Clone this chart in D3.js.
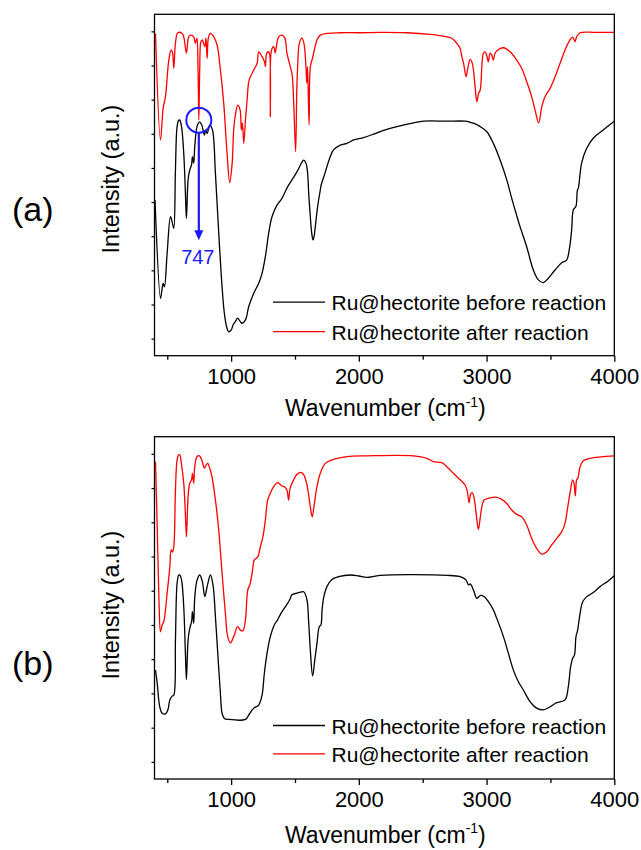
<!DOCTYPE html>
<html>
<head>
<meta charset="utf-8">
<script src="https://cdn.jsdelivr.net/npm/d3@7"></script>
<style>
  html, body { margin: 0; padding: 0; background: #fff; }
  svg { display: block; font-family: Arial, "Liberation Sans", Helvetica, sans-serif; }
</style>
</head>
<body>
<svg id="chart" width="641" height="850"></svg>
<script>
// FTIR spectra of Ru@hectorite before and after reaction (intensity in a.u.)
const xDomain = [400, 4000];
const xMajorTicks = [1000, 2000, 3000, 4000];
const xMinorTicks = [500, 1500, 2500, 3500];
const seriesNames = ["Ru@hectorite before reaction", "Ru@hectorite after reaction"];
const seriesColors = ["#000000", "#ff0000"];
const panelLabels = ["(a)", "(b)"];
const markedPeak = 747;
const markedPeakIntensity = 69.0;

// panel (a): [wavenumber, intensity]
const beforeA = [
  [404,45.6],[447,16.8],[458,19.2],[468,21.2],[478,20.2],[499,30.0],[525,40.7],[538,39.2],[551,37.3],
  [564,54.4],[577,67.1],[590,69.0],[598,69.0],[612,67.0],[629,59.3],[642,47.7],[650,40.2],[663,51.5],
  [676,54.4],[690,55.9],[697,58.3],[707,56.4],[715,61.1],[733,67.1],[752,68.5],[770,67.6],[791,64.6],
  [800,66.1],[812,65.1],[833,67.6],[854,66.1],[877,53.4],[903,35.9],[929,20.2],[947,12.4],[965,8.4],
  [981,7.0],[1000,7.5],[1015,9.0],[1033,10.0],[1051,11.0],[1068,10.2],[1084,9.5],[1112,10.5],[1138,14.4],
  [1177,18.3],[1216,21.2],[1242,24.1],[1268,29.0],[1294,35.9],[1320,40.7],[1359,44.1],[1398,46.1],
  [1437,49.1],[1476,51.5],[1516,53.9],[1550,56.4],[1568,57.3],[1586,56.4],[1598,53.8],[1608,47.1],
  [1620,40.7],[1632,35.6],[1641,33.9],[1650,35.1],[1659,37.8],[1677,43.6],[1698,48.5],[1705,50.0],
  [1730,52.9],[1750,55.4],[1775,58.2],[1802,60.3],[1855,61.7],[1907,62.2],[1959,63.2],[2037,63.9],
  [2115,64.9],[2193,66.0],[2298,67.1],[2428,68.2],[2506,68.7],[2689,68.7],[2832,68.7],[2870,68.4],
  [2897,68.1],[2950,67.1],[3002,65.6],[3053,62.2],[3106,57.3],[3158,51.5],[3197,46.1],[3223,42.7],
  [3262,37.8],[3314,31.9],[3366,25.1],[3405,22.2],[3445,21.4],[3484,22.7],[3536,25.1],[3588,27.2],
  [3627,28.0],[3647,31.0],[3666,36.8],[3679,42.7],[3700,43.8],[3711,48.5],[3718,49.0],[3744,56.4],
  [3783,60.7],[3835,63.7],[3913,66.1],[4000,68.7]
];
const afterA = [
  [408,94.4],[447,63.2],[468,72.6],[486,75.9],[512,86.6],[530,89.5],[540,89.0],[551,84.2],[564,91.5],
  [582,94.6],[616,94.4],[629,93.4],[650,88.6],[668,93.4],[686,93.9],[707,93.4],[720,91.5],[728,92.5],
  [733,93.0],[741,83.7],[747,69.0],[754,83.7],[763,91.9],[773,92.5],[794,90.5],[803,93.1],[812,87.1],
  [822,93.1],[838,94.4],[864,93.4],[890,91.0],[916,83.7],[942,73.9],[968,59.3],[989,50.7],[1008,56.4],
  [1020,66.1],[1033,70.5],[1052,73.4],[1070,72.0],[1080,66.1],[1088,68.2],[1099,62.2],[1112,69.0],
  [1125,74.9],[1138,80.3],[1151,81.7],[1177,83.7],[1203,85.6],[1216,89.0],[1242,87.6],[1262,86.0],
  [1268,84.7],[1280,88.7],[1295,89.0],[1307,70.0],[1316,89.5],[1333,90.5],[1345,88.7],[1355,90.7],
  [1372,93.4],[1398,93.9],[1420,93.1],[1437,88.6],[1463,84.7],[1478,82.2],[1489,74.9],[1505,59.8],
  [1514,77.8],[1521,84.7],[1534,91.5],[1555,93.0],[1570,91.5],[1586,84.7],[1592,79.9],[1598,84.7],
  [1610,67.6],[1620,84.7],[1633,86.6],[1646,88.6],[1672,92.5],[1698,93.9],[1750,94.4],[1855,94.6],
  [2011,94.6],[2167,94.7],[2376,94.6],[2558,94.1],[2689,93.4],[2728,93.0],[2767,91.5],[2793,90.0],
  [2806,87.6],[2820,85.6],[2840,81.7],[2855,84.7],[2871,86.8],[2885,86.0],[2897,83.7],[2910,78.8],
  [2924,74.4],[2937,76.8],[2950,77.8],[2963,84.7],[2975,88.6],[2988,89.0],[3000,88.1],[3014,86.1],
  [3027,88.6],[3040,88.1],[3053,86.6],[3066,88.6],[3093,89.7],[3132,90.2],[3184,89.0],[3236,86.6],
  [3275,84.2],[3314,80.3],[3353,75.9],[3379,72.0],[3408,68.2],[3432,72.9],[3458,75.9],[3497,78.3],
  [3536,81.7],[3575,85.6],[3614,89.5],[3653,92.5],[3674,93.3],[3692,92.0],[3705,93.4],[3732,94.6],
  [3850,94.7],[4000,94.7]
];

// panel (b): [wavenumber, intensity]
const beforeB = [
  [408,31.8],[421,28.0],[441,21.1],[460,19.2],[486,19.0],[505,20.2],[520,23.1],[538,24.2],[551,24.5],
  [564,40.6],[577,57.2],[590,59.6],[598,59.6],[612,58.1],[629,50.3],[642,36.7],[650,29.1],[663,40.6],
  [676,44.0],[690,45.9],[697,48.9],[707,45.5],[715,52.9],[733,58.1],[754,59.6],[775,57.6],[794,53.3],
  [815,56.7],[838,59.6],[858,56.7],[877,47.4],[897,35.7],[916,25.0],[929,19.2],[947,17.7],[981,17.4],
  [1112,17.4],[1138,18.7],[1177,20.7],[1216,21.6],[1242,24.5],[1260,30.9],[1281,36.7],[1307,41.6],
  [1338,45.0],[1364,46.5],[1390,48.4],[1424,50.3],[1458,52.3],[1476,53.8],[1516,54.3],[1545,54.6],
  [1568,54.7],[1594,52.3],[1606,46.5],[1620,37.7],[1638,30.1],[1655,34.8],[1672,39.6],[1690,44.5],
  [1703,45.0],[1712,49.4],[1724,52.9],[1750,56.2],[1789,58.3],[1841,59.1],[1933,59.6],[2000,59.3],
  [2063,58.9],[2167,59.5],[2689,59.5],[2793,59.1],[2840,58.1],[2858,56.7],[2872,57.0],[2897,55.2],
  [2924,52.8],[2950,53.6],[2980,53.3],[3014,51.8],[3053,49.4],[3079,47.0],[3132,41.6],[3171,36.7],
  [3210,31.8],[3249,28.4],[3288,26.0],[3340,22.6],[3392,20.7],[3445,20.2],[3497,21.1],[3549,22.3],
  [3614,23.1],[3640,27.0],[3658,32.8],[3674,35.3],[3688,36.2],[3700,41.6],[3713,43.5],[3730,47.9],
  [3752,51.7],[3783,53.2],[3840,54.6],[3888,56.2],[3950,57.8],[4000,59.4]
];
const afterB = [
  [408,92.7],[420,75.7],[435,52.3],[447,43.0],[460,45.0],[473,46.0],[499,54.3],[520,62.0],[530,66.9],
  [540,66.3],[551,67.9],[564,84.4],[577,93.2],[590,94.7],[598,94.7],[612,91.7],[629,86.4],[642,77.1],
  [650,70.8],[663,82.5],[676,86.4],[690,87.4],[697,89.3],[707,86.4],[715,91.1],[733,94.2],[752,94.4],
  [770,93.2],[791,90.8],[803,91.7],[816,92.2],[830,91.1],[850,88.3],[877,81.5],[903,72.7],[929,60.1],
  [955,48.4],[973,41.6],[994,39.8],[1020,41.6],[1051,44.5],[1072,43.5],[1092,43.3],[1112,46.5],
  [1130,55.2],[1146,56.7],[1164,60.1],[1182,64.0],[1198,64.5],[1212,65.1],[1229,67.9],[1249,70.8],
  [1268,75.7],[1286,81.5],[1307,83.5],[1333,85.4],[1364,86.6],[1398,85.6],[1420,85.3],[1437,84.4],
  [1450,81.5],[1462,85.0],[1489,87.4],[1516,89.0],[1547,89.6],[1570,88.8],[1594,85.9],[1620,79.5],
  [1635,76.6],[1650,80.0],[1672,85.4],[1698,89.3],[1737,92.2],[1802,93.4],[1907,94.2],[2063,94.4],
  [2428,94.4],[2532,93.7],[2584,92.7],[2649,92.4],[2701,90.8],[2741,89.3],[2793,87.4],[2832,85.9],
  [2850,83.8],[2863,80.7],[2876,83.3],[2889,83.6],[2905,81.5],[2924,75.7],[2936,72.9],[2950,76.2],
  [2963,79.5],[2980,81.5],[3014,82.0],[3079,82.3],[3119,81.7],[3158,80.5],[3197,78.6],[3236,77.3],
  [3275,76.6],[3314,74.2],[3353,70.3],[3392,67.4],[3432,65.7],[3471,66.4],[3510,68.4],[3549,70.3],
  [3588,72.2],[3614,74.7],[3632,78.6],[3653,83.5],[3674,87.4],[3684,86.5],[3695,82.7],[3705,87.4],
  [3715,87.9],[3732,91.2],[3757,93.0],[3810,93.7],[4000,94.4]
];

const panels = [
  { label: panelLabels[0], top: 14.3, bottom: 355.7, series: [beforeA, afterA], mark: true,
    tickPad: 7, titleOffset: 60.5, yLabelCenter: 179, labelBase: 221, legendGap: 29.4 },
  { label: panelLabels[1], top: 436.7, bottom: 779, series: [beforeB, afterB], mark: false,
    tickPad: 6, titleOffset: 63.5, yLabelCenter: 605, labelBase: 675, legendGap: 28.3 }
];

const left = 154.5, right = 614.3;
const svg = d3.select("#chart");
const x = d3.scaleLinear().domain(xDomain).range([left, right]);
const blue = "#1a1aff";

panels.forEach((p, i) => {
  const y = d3.scaleLinear().domain([0, 100]).range([p.bottom, p.top]);
  const g = svg.append("g");

  // spectra
  const line = d3.line()
    .x(d => x(d[0]))
    .y(d => y(d[1]))
    .curve(d3.curveCatmullRom.alpha(0.5));
  p.series.forEach((s, k) => {
    g.append("path")
      .datum(s)
      .attr("fill", "none")
      .attr("stroke", seriesColors[k])
      .attr("stroke-width", 1.3)
      .attr("stroke-linejoin", "round")
      .attr("d", line);
  });

  // frame
  g.append("rect")
    .attr("x", left).attr("y", p.top)
    .attr("width", right - left).attr("height", p.bottom - p.top)
    .attr("fill", "none").attr("stroke", "#000").attr("stroke-width", 1.3);

  // bottom axis with major and minor ticks
  const axis = d3.axisBottom(x).tickValues(xMajorTicks).tickSize(6).tickPadding(p.tickPad).tickFormat(d3.format("d"));
  const ax = g.append("g").attr("transform", `translate(0,${p.bottom})`).call(axis);
  ax.select(".domain").remove();
  ax.selectAll(".tick line").attr("stroke-width", 1.3);
  ax.selectAll(".tick text")
    .attr("font-size", 22).attr("font-family", "Arial, 'Liberation Sans', sans-serif").attr("fill", "#000");
  const minor = d3.axisBottom(x).tickValues(xMinorTicks).tickSize(4).tickFormat("");
  const mx = g.append("g").attr("transform", `translate(0,${p.bottom})`).call(minor);
  mx.select(".domain").remove();
  mx.selectAll(".tick line").attr("stroke-width", 1.3);

  // left axis ticks (unlabelled)
  const yAxis = d3.axisLeft(y).tickValues(d3.range(5, 100, 10)).tickSize(3).tickFormat("");
  const ay = g.append("g").attr("transform", `translate(${left},0)`).call(yAxis);
  ay.select(".domain").remove();
  ay.selectAll(".tick line").attr("stroke-width", 1.2);

  // axis titles
  const xt = g.append("text")
    .attr("x", (left + right) / 2 + 1)
    .attr("y", p.bottom + p.titleOffset)
    .attr("text-anchor", "middle")
    .attr("font-size", 23);
  xt.append("tspan").text("Wavenumber (cm");
  xt.append("tspan").attr("font-size", 14).attr("dy", -9.5).text("-1");
  xt.append("tspan").attr("dy", 9.5).text(")");

  g.append("text")
    .attr("transform", `translate(118.5,${p.yLabelCenter}) rotate(-90)`)
    .attr("text-anchor", "middle")
    .attr("font-size", 23.5)
    .text("Intensity (a.u.)");

  g.append("text")
    .attr("x", 12).attr("y", p.labelBase)
    .attr("font-size", 34)
    .text(p.label);

  // legend
  const lg = g.append("g");
  seriesNames.forEach((name, k) => {
    const ly = p.bottom - 53.5 + k * p.legendGap;
    lg.append("line")
      .attr("x1", 273).attr("x2", 325).attr("y1", ly).attr("y2", ly)
      .attr("stroke", seriesColors[k]).attr("stroke-width", 1.3);
    lg.append("text")
      .attr("x", 331.5).attr("y", ly + 8)
      .attr("font-size", 21)
      .text(name);
  });

  // marked band in panel (a)
  if (p.mark) {
    const cx = x(markedPeak), cy = y(markedPeakIntensity);
    const r = 12.5;
    g.append("circle")
      .attr("cx", cx).attr("cy", cy).attr("r", r)
      .attr("fill", "none").attr("stroke", blue).attr("stroke-width", 2);
    const tipY = cy + 120;
    g.append("line")
      .attr("x1", cx).attr("x2", cx).attr("y1", cy + r).attr("y2", tipY - 9)
      .attr("stroke", blue).attr("stroke-width", 2.2);
    g.append("path")
      .attr("d", `M${cx - 4.5},${tipY - 10} L${cx + 4.5},${tipY - 10} L${cx},${tipY} Z`)
      .attr("fill", blue);
    g.append("text")
      .attr("x", cx - 1).attr("y", tipY + 23.5)
      .attr("text-anchor", "middle")
      .attr("font-size", 20)
      .attr("fill", blue)
      .text(String(markedPeak));
  }
});
</script>
</body>
</html>
